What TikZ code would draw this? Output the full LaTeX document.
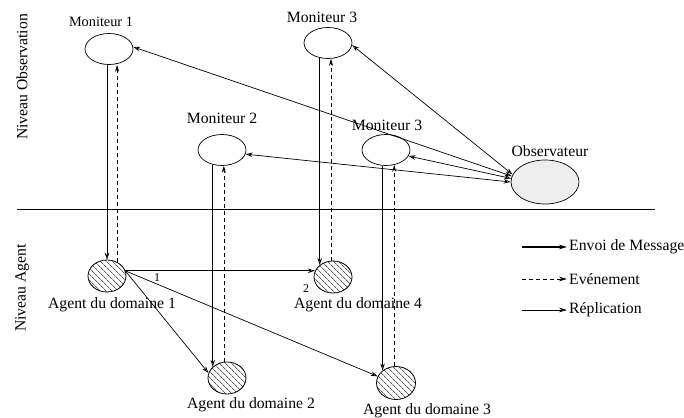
\documentclass[tikz,border=0pt]{standalone}
\usepackage{fontspec}
\setmainfont{Liberation Serif}
\usetikzlibrary{shapes.geometric,arrows.meta,patterns.meta}
\begin{document}
\begin{tikzpicture}[x=1pt,y=-1pt,
  txt/.style={inner sep=0pt,font=\fontsize{15.7}{18}\selectfont},
  smalltxt/.style={inner sep=0pt,font=\fontsize{14.3}{16}\selectfont},
  numtxt/.style={inner sep=0pt,font=\fontsize{12}{14}\selectfont},
  mon/.style={ellipse,draw,line width=0.7pt,minimum width=48pt,minimum height=31pt,inner sep=0pt},
  obsv/.style={ellipse,draw,line width=0.7pt,fill=black!7,minimum width=68pt,minimum height=44pt,inner sep=0pt},
  agent/.style={ellipse,draw,line width=0.8pt,minimum width=38pt,minimum height=32pt,inner sep=0pt,
    pattern={Lines[angle=-45,distance=4pt,line width=0.5pt]}},
  msg/.style={line width=0.7pt,-{Stealth[open,length=7pt,width=4.5pt]}},
  evt/.style={line width=0.7pt,dash pattern=on 4pt off 3pt,-{Stealth[length=7pt,width=4pt]}},
  rep/.style={line width=0.7pt,-{Stealth[open,length=7pt,width=4.5pt]}},
  dbl/.style={line width=0.7pt,{Stealth[open,length=7pt,width=4.5pt]}-{Stealth[open,length=7pt,width=4.5pt]}},
]
\useasboundingbox (0,0) rectangle (684,417);

% level labels
\node[txt,rotate=90] (lobs) at (22,77) {Niveau Observation};
\node[txt,rotate=90] (lag) at (22,288) {Niveau Agent};

% separator
\coordinate (sepL) at (17,209);
\coordinate (sepR) at (655,209);
\draw[line width=0.8pt] (sepL) -- (sepR);

% monitors
\node[mon] (m1) at (109,49) {};
\node[smalltxt] (m1l) at (101,22) {Moniteur 1};
\node[mon] (m3) at (328,43) {};
\node[txt] (m3l) at (322,17) {Moniteur 3};
\node[mon] (m2) at (222,150) {};
\node[txt] (m2l) at (222,118) {Moniteur 2};
\node[mon] (m3b) at (386,150) {};
\node[txt] (m3bl) at (387,125) {Moniteur 3};
\node[obsv] (obs) at (545,182) {};
\node[txt] (obsl) at (550,151) {Observateur};

% agents
\node[agent] (a1) at (107,276) {};
\node[txt] (a1l) at (112,305) {Agent du domaine 1};
\node[agent] (a4) at (333,277) {};
\node[txt] (a4l) at (358,305) {Agent du domaine 4};
\node[agent] (a2) at (227,378) {};
\node[txt] (a2l) at (251,405) {Agent du domaine 2};
\node[agent,minimum width=39pt,minimum height=33pt] (a3) at (396,383) {};
\node[txt] (a3l) at (427,411) {Agent du domaine 3};

% vertical monitor/agent links
\draw[msg] (a1.north |- m1.south) -- (a1.north);
\draw[evt] (a1.54) -- (a1.54 |- m1.south);
\draw[msg] (a2.142 |- m2.239) -- (a2.142);
\draw[evt] (a2.101) -- (a2.101 |- m2.south);
\draw[msg] (a4.138 |- m3.240) -- (a4.138);
\draw[evt] (a4.97) -- (a4.97 |- m3.south);
\draw[msg] (a3.137 |- m3b.south) -- (a3.137);
\draw[evt] (a3.96) -- (a3.96 |- m3b.300);

% observer links
\draw[dbl] (m1.5) -- (obs.170);
\draw[dbl] (m3.-5) -- (obs.167);
\draw[dbl] (m3b.-15) -- (obs.174);
\draw[dbl] (m2.-10) -- (obs.180);

% replication between agents
\draw[rep] (a1.16) -- (a1.16 -| a4.162);
\draw[rep] (a1.16) -- (a2.165);
\draw[rep] (a1.16) -- (a3.160);
\node[numtxt] (n1) at (157,278) {1};
\node[numtxt] (n2) at (306,289) {2};

% legend
\node[txt,anchor=west] (lg1) at (569,247) {Envoi de Message};
\node[txt,anchor=west] (lg2) at (569,279) {Evénement};
\node[txt,anchor=west] (lg3) at (569,310) {Réplication};
\coordinate (lg1s) at (522,247);
\coordinate (lg2s) at (522,279);
\coordinate (lg3s) at (522,310);
\draw[line width=1.6pt,-{Stealth[length=8pt,width=4.5pt]}] (lg1s) -- ([xshift=-2pt]lg1.west);
\draw[line width=0.7pt,dash pattern=on 4pt off 3pt,-{Stealth[length=8pt,width=4.5pt]}] (lg2s) -- ([xshift=-2pt]lg2.west);
\draw[line width=0.7pt,-{Stealth[length=8pt,width=4.5pt]}] (lg3s) -- ([xshift=-2pt]lg3.west);
\end{tikzpicture}
\end{document}
